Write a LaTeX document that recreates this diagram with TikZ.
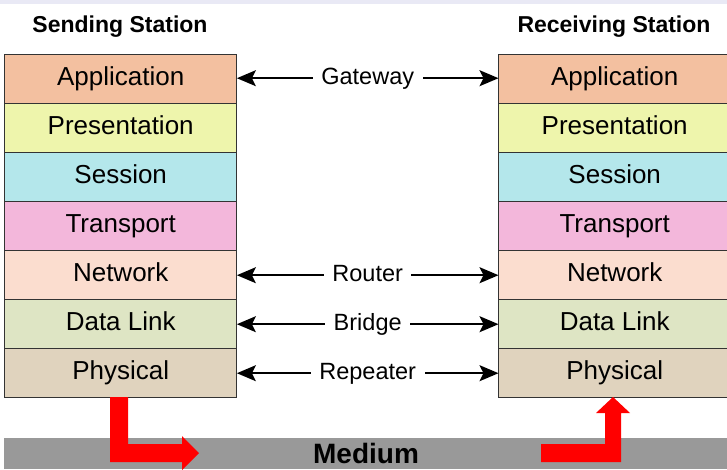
\documentclass[tikz,border=0pt]{standalone}
\usepackage{fontspec}
\setmainfont{Liberation Sans}
\usetikzlibrary{arrows.meta}
\definecolor{band}{HTML}{E9E9F5}
\definecolor{cApp}{HTML}{F3C0A0}
\definecolor{cPre}{HTML}{EEF5AC}
\definecolor{cSes}{HTML}{B4E7EB}
\definecolor{cTra}{HTML}{F3B7DB}
\definecolor{cNet}{HTML}{FBDDCF}
\definecolor{cDat}{HTML}{DEE5C4}
\definecolor{cPhy}{HTML}{E0D3BE}
\definecolor{edge}{HTML}{333333}
\definecolor{medium}{HTML}{999999}
\tikzset{
  layer/.style={draw=edge, line width=1.4pt, minimum width=232pt, minimum height=49pt,
    anchor=north west, inner sep=0pt, text height=18.6pt, text depth=5.5pt,
    font=\fontsize{26}{30}\selectfont},
  title/.style={font=\fontsize{23}{27}\selectfont\bfseries, inner sep=0pt, anchor=base},
  tip/.tip={Stealth[length=19pt,width=16pt,inset=4pt]},
  link/.style={line width=1.5pt, tip-tip, shorten <=-0.5pt, shorten >=-0.5pt},
  linklabel/.style={fill=white, inner xsep=8.5pt, inner ysep=0pt, text height=16.8pt, text depth=4.9pt,
    font=\fontsize{23.5}{27}\selectfont},
  redarrow/.style={fill=red, draw=none}
}
\begin{document}
\begin{tikzpicture}[x=1pt,y=-1pt]
\useasboundingbox (0,0) rectangle (727,469);
\clip (0,0) rectangle (727,469);
\fill[white] (0,0) rectangle (727,469);
\fill[band] (0,0) rectangle (727,4);
% titles
\node[title] (ts) at (120,32) {Sending Station};
\node[title] (tr) at (614,32) {Receiving Station};
% stacks
\foreach \side/\x in {L/4, R/498} {
  \node[layer, fill=cApp] (\side1) at (\x,54) {Application};
  \node[layer, fill=cPre] (\side2) at (\x,103) {Presentation};
  \node[layer, fill=cSes] (\side3) at (\x,152) {Session};
  \node[layer, fill=cTra] (\side4) at (\x,201) {Transport};
  \node[layer, fill=cNet] (\side5) at (\x,250) {Network};
  \node[layer, fill=cDat] (\side6) at (\x,299) {Data Link};
  \node[layer, fill=cPhy] (\side7) at (\x,348) {Physical};
}
% device links
\draw[link] ([yshift=1pt]L1.east) -- ([yshift=1pt]R1.west) node[midway, linklabel] (gw) {Gateway};
\draw[link] (L5.east) -- (R5.west) node[midway, linklabel] (rt) {Router};
\draw[link] (L6.east) -- (R6.west) node[midway, linklabel] (br) {Bridge};
\draw[link] (L7.east) -- (R7.west) node[midway, linklabel] (rp) {Repeater};
% medium
\fill[medium] (4,438) rectangle (727,469);
\node[font=\fontsize{28}{32}\selectfont\bfseries, inner sep=0pt, anchor=base] (med) at (366,463) {Medium};
% red arrows
\fill[redarrow] (110,397) -- (128,397) -- (128,444) -- (182,444) -- (182,436) -- (199,453)
  -- (182,470) -- (182,462) -- (110,462) -- cycle;
\fill[redarrow] (541,444) -- (605,444) -- (605,413) -- (596,413) -- (613,397) -- (630,413)
  -- (621,413) -- (621,462) -- (541,462) -- cycle;
\end{tikzpicture}
\end{document}
